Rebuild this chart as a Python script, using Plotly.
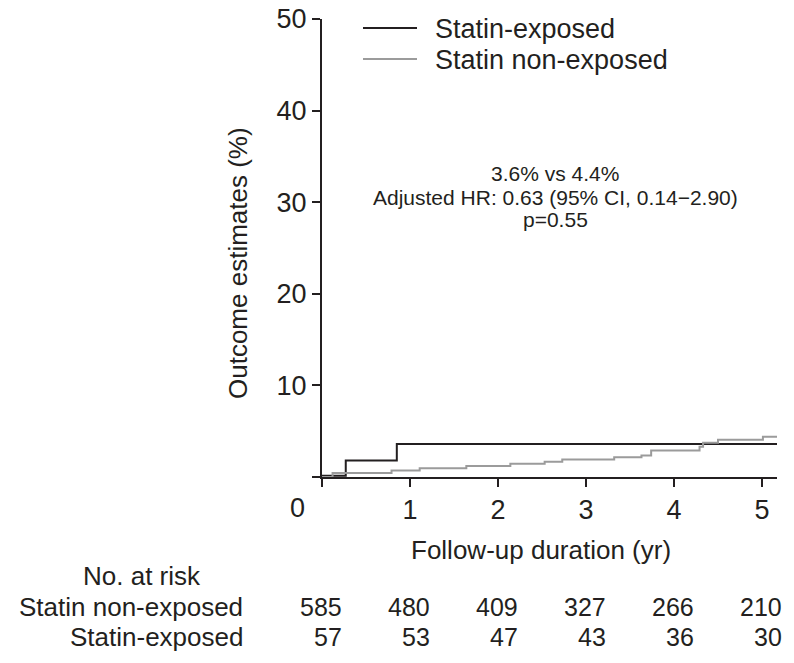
import plotly.graph_objects as go

# ---- data ----
time_exposed = [0, 0.27, 0.85, 5.17]
est_exposed = [0.15, 1.8, 3.6, 3.6]
time_nonexposed = [0, 0.12, 0.79, 1.11, 1.64, 2.14, 2.53, 2.73, 3.32, 3.63, 3.74, 4.29, 4.33, 4.50, 5.01, 5.17]
est_nonexposed = [0, 0.45, 0.72, 0.95, 1.2, 1.45, 1.67, 1.9, 2.15, 2.35, 2.9, 3.3, 3.75, 4.07, 4.4, 4.4]

risk_times = [0, 1, 2, 3, 4, 5]
risk_nonexposed = [585, 480, 409, 327, 266, 210]
risk_exposed = [57, 53, 47, 43, 36, 30]

x_ticks = [0, 1, 2, 3, 4, 5]
y_ticks = [0, 10, 20, 30, 40, 50]

series_names = ["Statin-exposed", "Statin non-exposed"]
series_colors = ["#231f20", "#9b9b9b"]
stats_lines = ["3.6% vs 4.4%", "Adjusted HR: 0.63 (95% CI, 0.14\u22122.90)", "p=0.55"]

# ---- geometry helpers (pixel -> paper) ----
W, H = 794, 663
L, R, T, B = 322, 777, 19, 477
def px(x):
    return (x - L) / (R - L)
def py(y):
    return (B - y) / (B - T)

FONT = "Liberation Sans, Arial, Helvetica, sans-serif"
TXT = "#231f20"
RISK_FS = 25
ROW1_Y, ROW2_Y = 607, 637

fig = go.Figure()
fig.add_trace(go.Scatter(x=time_exposed, y=est_exposed, mode="lines", line_shape="hv",
                         line=dict(color=series_colors[0], width=2), name=series_names[0]))
fig.add_trace(go.Scatter(x=time_nonexposed, y=est_nonexposed, mode="lines", line_shape="hv",
                         line=dict(color=series_colors[1], width=2), name=series_names[1]))

fig.update_layout(
    template="none",
    width=W, height=H,
    margin=dict(l=L, r=W - R, t=T, b=H - B, pad=0, autoexpand=False),
    paper_bgcolor="white", plot_bgcolor="white",
    showlegend=False,
    font=dict(family=FONT, size=27, color=TXT),
    xaxis=dict(range=[0, 5.17], tickvals=x_ticks, ticktext=[""] + [str(v) for v in x_ticks[1:]],
               ticks="outside", ticklen=8, tickwidth=2, tickcolor=TXT, automargin=False,
               showline=True, linewidth=2, linecolor=TXT, showgrid=False, zeroline=False,
               tickfont=dict(size=27, color=TXT)),
    yaxis=dict(range=[0, 50], tickvals=y_ticks, ticktext=[""] + [str(v) for v in y_ticks[1:]],
               ticks="outside", ticklen=8, tickwidth=2, tickcolor=TXT, automargin=False,
               showline=True, linewidth=2, linecolor=TXT, showgrid=False, zeroline=False,
               tickfont=dict(size=27, color=TXT)),
)

ann = []
# "0" label
ann.append(dict(x=px(297), y=py(508), xref="paper", yref="paper", text="0", showarrow=False,
                xanchor="center", yanchor="middle", font=dict(size=27)))
# axis titles
ann.append(dict(x=px(541), y=py(550), xref="paper", yref="paper", text="Follow-up duration (yr)",
                showarrow=False, xanchor="center", yanchor="middle", font=dict(size=26)))
ann.append(dict(x=px(238), y=py(263), xref="paper", yref="paper", text="Outcome estimates (%)",
                showarrow=False, xanchor="center", yanchor="middle", textangle=-90, font=dict(size=26)))
# stats text
for t, yy in zip(stats_lines, [173, 197, 220]):
    ann.append(dict(x=px(555), y=py(yy), xref="paper", yref="paper", text=t, showarrow=False,
                    xanchor="center", yanchor="middle", font=dict(size=21)))
# legend (manual)
for name, color, yy in zip(series_names, series_colors, [28, 59]):
    fig.add_shape(type="line", xref="paper", yref="paper", x0=px(363), x1=px(417), y0=py(yy), y1=py(yy),
                  line=dict(color=color, width=2))
    ann.append(dict(x=px(433), y=py(yy + 1), xref="paper", yref="paper", text=name, showarrow=False,
                    xanchor="left", yanchor="middle", font=dict(size=27)))
# risk table
ann.append(dict(x=px(142), y=py(576), xref="paper", yref="paper", text="No. at risk", showarrow=False,
                xanchor="center", yanchor="middle", font=dict(size=26)))
ann.append(dict(x=px(245), y=py(ROW1_Y), xref="paper", yref="paper", text=series_names[1], showarrow=False,
                xanchor="right", yanchor="middle", font=dict(size=RISK_FS + 1)))
ann.append(dict(x=px(245), y=py(ROW2_Y), xref="paper", yref="paper", text=series_names[0], showarrow=False,
                xanchor="right", yanchor="middle", font=dict(size=RISK_FS + 1)))
for t, n1, n2 in zip(risk_times, risk_nonexposed, risk_exposed):
    ann.append(dict(x=t, y=py(ROW1_Y), xref="x", yref="paper", text=str(n1), showarrow=False,
                    xanchor="right", yanchor="middle", xshift=22, font=dict(size=RISK_FS)))
    ann.append(dict(x=t, y=py(ROW2_Y), xref="x", yref="paper", text=str(n2), showarrow=False,
                    xanchor="right", yanchor="middle", xshift=22, font=dict(size=RISK_FS)))

fig.update_layout(annotations=ann)
fig.write_html("out.html",
               config={"displayModeBar": False},
               post_script="document.body.style.margin='0';document.body.style.overflow='hidden';")
